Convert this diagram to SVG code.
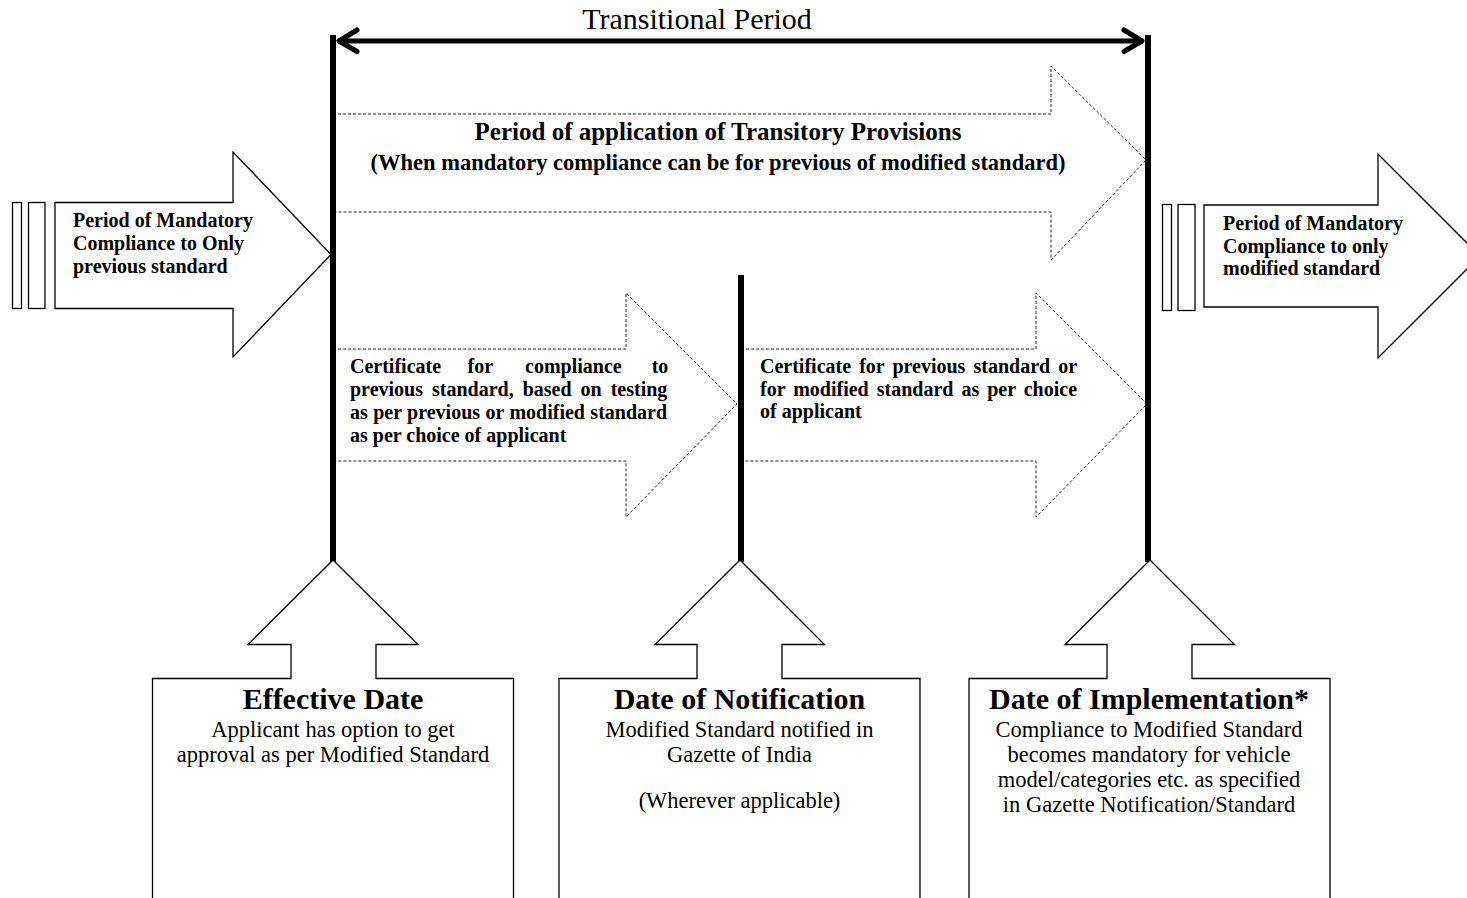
<svg xmlns="http://www.w3.org/2000/svg" width="1467" height="898" viewBox="0 0 1467 898">
<style>
.solid{fill:#fff;stroke:#000;stroke-width:1.3}
.dot{fill:#fff;stroke:#222;stroke-width:1;stroke-dasharray:3 2}
.bar{stroke:#000;stroke-width:6;fill:none}
.b20{font-family:"Liberation Serif","Times New Roman",serif;font-weight:bold;font-size:20px;fill:#000}
.title{font-family:"Liberation Serif","Times New Roman",serif;font-weight:bold;font-size:30px;fill:#000;text-anchor:middle}
.body{font-family:"Liberation Serif","Times New Roman",serif;font-size:22.5px;fill:#000;text-anchor:middle}
</style>
<rect width="1467" height="898" fill="#fff"/>

<g id="transitional-period">
  <text x="697" y="29" font-family="Liberation Serif, Times New Roman, serif" font-size="30" text-anchor="middle">Transitional Period</text>
</g>

<g id="left-period">
  <rect class="solid" x="12.5" y="202.5" width="9" height="106"/>
  <rect class="solid" x="28.5" y="202.5" width="16.5" height="106"/>
  <path class="solid" d="M55,202.5 H233 V152 L331,254.5 L233,357 V308.5 H55 Z"/>
  <text class="b20" x="73" y="227">Period of Mandatory</text>
  <text class="b20" x="73" y="250">Compliance to Only</text>
  <text class="b20" x="73" y="273">previous standard</text>
</g>

<g id="right-period">
  <rect class="solid" x="1162.5" y="204.5" width="9" height="106"/>
  <rect class="solid" x="1178" y="204.5" width="17" height="106"/>
  <path class="solid" d="M1204,205 H1378 V154 L1480,256 L1378,358 V307 H1204 Z"/>
  <text class="b20" x="1223" y="230">Period of Mandatory</text>
  <text class="b20" x="1223" y="253">Compliance to only</text>
  <text class="b20" x="1223" y="275">modified standard</text>
</g>

<g id="transitory-provisions">
  <path class="dot" d="M333,114 H1051 V66 L1146,160 L1051,260 V212 H333 Z"/>
  <text x="718" y="140" font-family="Liberation Serif, Times New Roman, serif" font-weight="bold" font-size="25" text-anchor="middle">Period of application of Transitory Provisions</text>
  <text x="718" y="170" font-family="Liberation Serif, Times New Roman, serif" font-weight="bold" font-size="22.5" text-anchor="middle">(When mandatory compliance can be for previous of modified standard)</text>
</g>

<g id="certificate-previous">
  <path class="dot" d="M333,349 H626 V293 L737,404 L626,517 V461 H333 Z"/>
  <text class="b20" y="373"><tspan x="350">Certificate</tspan><tspan x="467.5">for</tspan><tspan x="525">compliance</tspan><tspan x="668.3" text-anchor="end">to</tspan></text>
  <text class="b20" x="350" y="396" word-spacing="4">previous standard, based on testing</text>
  <text class="b20" x="350" y="418.5" word-spacing="0.4">as per previous or modified standard</text>
  <text class="b20" x="350" y="441.5">as per choice of applicant</text>
</g>

<g id="certificate-choice">
  <path class="dot" d="M741,349 H1036 V293 L1147,404 L1036,517 V461 H741 Z"/>
  <text class="b20" x="760" y="373" word-spacing="3.1">Certificate for previous standard or</text>
  <text class="b20" x="760" y="396" word-spacing="3">for modified standard as per choice</text>
  <text class="b20" x="760" y="418">of applicant</text>
</g>

<g id="connectors">
  <line class="bar" x1="333" y1="35" x2="333" y2="562"/>
  <line class="bar" x1="741" y1="275" x2="741" y2="562"/>
  <line class="bar" x1="1148" y1="35" x2="1148" y2="562"/>
  <line x1="338" y1="41" x2="1143" y2="41" stroke="#000" stroke-width="5"/>
  <polyline points="357,30 339,41 357,51.5" fill="none" stroke="#000" stroke-width="5" stroke-linecap="round" stroke-linejoin="round"/>
  <polyline points="1124,30 1142,41 1124,51.5" fill="none" stroke="#000" stroke-width="5" stroke-linecap="round" stroke-linejoin="round"/>
</g>

<g id="effective-date">
  <polygon class="solid" points="333,560 418,644.5 376,644.5 376,678.5 513.5,678.5 513.5,905 152.5,905 152.5,678.5 291,678.5 291,644.5 248,644.5"/>
  <text class="title" x="333" y="709">Effective Date</text>
  <text class="body" x="333" y="737">Applicant has option to get</text>
  <text class="body" x="333" y="762">approval as per Modified Standard</text>
</g>

<g id="date-of-notification">
  <polygon class="solid" points="740,560 824.5,644.5 782,644.5 782,678.5 920,678.5 920,905 559,905 559,678.5 697,678.5 697,644.5 655,644.5"/>
  <text class="title" x="739.5" y="709">Date of Notification</text>
  <text class="body" x="739.5" y="737">Modified Standard notified in</text>
  <text class="body" x="739.5" y="762">Gazette of India</text>
  <text class="body" x="739.5" y="808">(Wherever applicable)</text>
</g>

<g id="date-of-implementation">
  <polygon class="solid" points="1150,560 1234.5,644.5 1192,644.5 1192,678.5 1330,678.5 1330,905 969,905 969,678.5 1107,678.5 1107,644.5 1065,644.5"/>
  <text class="title" x="1149" y="709">Date of Implementation*</text>
  <text class="body" x="1149" y="737">Compliance to Modified Standard</text>
  <text class="body" x="1149" y="762">becomes mandatory for vehicle</text>
  <text class="body" x="1149" y="787">model/categories etc. as specified</text>
  <text class="body" x="1149" y="812">in Gazette Notification/Standard</text>
</g>
</svg>
